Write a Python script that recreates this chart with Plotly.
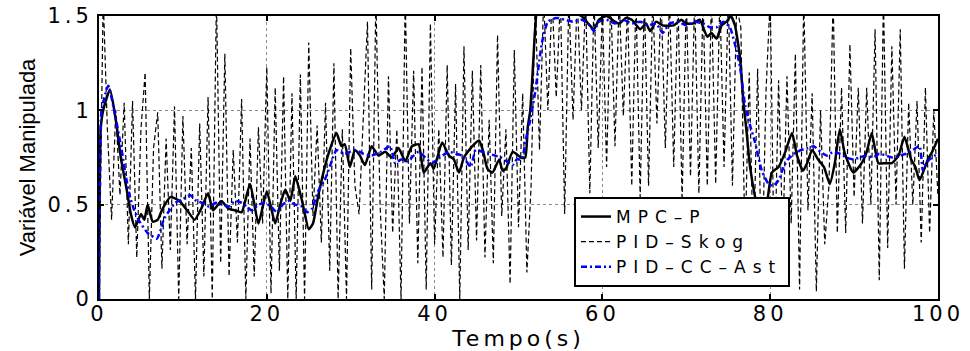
import plotly.graph_objects as go

# ---------------- data ----------------
# PID-Skog: sampled every 0.5 s from t=0 to t=100
skog_dt = 0.5
skog_v = [
    0.0, 1.6, 0.9, 0.42, 1.0, 0.55, 1.04, 0.29, 1.05, 0.22,
    0.9, 1.2, 0.0, 0.8, 0.99, 0.16, 0.85, 0.26, 1.02, 0.0,
    0.97, 0.29, 0.8, 0.0, 0.93, 0.12, 1.07, 0.0, 1.6, 0.19,
    1.30, 0.12, 0.79, 0.3, 1.06, 0.0, 0.85, 0.12, 0.91, 0.4,
    1.23, 0.03, 1.12, 0.15, 1.18, 0.0, 1.09, 0.0, 1.19, 0.0,
    1.36, 0.44, 0.92, 0.3, 1.04, 0.15, 1.25, 0.0, 0.9, 0.0,
    1.33, 0.6, 0.45, 1.0, 1.47, 0.05, 1.6, 0.5, 0.0, 1.18,
    0.35, 0.9, 0.0, 1.6, 0.4, 1.21, 0.19, 1.23, 0.05, 1.46,
    0.29, 0.9, 0.22, 1.24, 0.18, 1.14, 0.0, 1.34, 0.26, 1.21,
    0.31, 1.24, 0.22, 0.95, 0.19, 1.40, 0.44, 0.9, 0.08, 1.32,
    0.38, 1.09, 0.14, 0.6, 1.6, 0.79, 1.6, 1.0, 1.6, 1.07,
    1.6, 0.45, 1.6, 0.95, 1.6, 1.0, 1.6, 0.56, 1.6, 0.8,
    1.55, 0.7, 1.6, 0.81, 1.6, 0.97, 1.55, 0.6, 1.6, 0.54,
    1.6, 0.6, 1.6, 0.93, 1.6, 0.8, 1.6, 0.7, 1.6, 0.52,
    1.6, 0.65, 1.6, 0.56, 1.6, 0.6, 1.6, 0.61, 1.6, 0.7,
    1.6, 0.6, 1.55, 1.44, 0.3, 1.2, 0.2, 1.22, 0.1, 1.1,
    1.6, 0.1, 1.16, 0.3, 1.18, 0.4, 1.30, 0.05, 1.6, 0.47,
    1.09, 0.04, 1.0, 0.29, 0.6, 1.6, 0.35, 1.12, 0.35, 1.35,
    0.54, 1.12, 0.4, 1.12, 0.5, 1.43, 0.10, 1.6, 0.27, 1.34,
    0.5, 1.43, 0.16, 1.04, 0.5, 1.05, 0.30, 1.12, 0.35, 1.0,
    0.54,
]
skog_t = [i * skog_dt for i in range(len(skog_v))]

# MPC-P
mpc_t = [0, 0.2, 0.5, 1.3, 2.0, 2.6, 3.3, 3.8, 4.3, 5.0, 5.4, 5.8, 6.4, 7.0, 7.6,
         8.5, 9.6, 10.5, 11.4, 12.2, 13.0, 13.6, 14.6, 15.4, 16.2, 17.0, 18.0,
         19.0, 20.0, 21.0, 21.6, 22.2, 22.8, 23.4, 24.2, 25.0, 25.5, 26.1, 26.8,
         27.5, 28.3, 28.9, 29.3, 29.9, 30.5, 31.1, 31.7, 32.5, 33.3, 34.1, 34.9,
         35.7, 36.5, 37.3, 38.1, 38.7, 39.5, 39.9, 40.9, 41.7, 42.3, 42.9, 43.5,
         44.5, 45.3, 45.8, 46.3, 46.9, 47.7, 48.1, 48.5, 49.3, 50.3, 50.8, 51.1,
         51.4, 52.0, 52.2, 53.0, 56.0, 57.5, 58.3, 59.0, 59.6, 60.5, 61.5, 62.0,
         62.8, 63.5, 64.5, 65.2, 65.7, 66.4, 67.2, 68.5, 69.4, 70.0, 70.8, 71.6,
         72.5, 73.0, 73.6, 74.2, 74.8, 75.3, 75.8, 76.4, 76.8, 77.2, 77.6, 78.2,
         78.8, 79.4, 80.2, 81.0, 81.8, 82.6, 83.2, 83.9, 84.4, 85.0, 85.7, 86.4,
         87.1, 87.7, 88.3, 88.9, 89.9, 90.9, 91.5, 92.1, 92.9, 93.7, 94.5, 95.3,
         96.0, 96.8, 97.3, 97.8, 98.8, 99.3, 100.0]
mpc_v = [0.0, 0.9, 1.0, 1.11, 0.95, 0.75, 0.58, 0.45, 0.38, 0.45, 0.42, 0.50, 0.41,
         0.42, 0.48, 0.54, 0.52, 0.47, 0.42, 0.48, 0.56, 0.47, 0.52, 0.48, 0.47,
         0.46, 0.61, 0.40, 0.57, 0.40, 0.50, 0.58, 0.52, 0.65, 0.52, 0.37, 0.40,
         0.54, 0.68, 0.79, 0.88, 0.81, 0.82, 0.70, 0.79, 0.76, 0.71, 0.81, 0.76,
         0.78, 0.75, 0.80, 0.73, 0.81, 0.82, 0.67, 0.72, 0.69, 0.83, 0.76, 0.74,
         0.67, 0.75, 0.81, 0.84, 0.78, 0.69, 0.67, 0.74, 0.68, 0.69, 0.78, 0.75,
         0.75, 0.91, 1.0, 1.44, 1.52, 1.52, 1.52, 1.5, 1.46, 1.43, 1.48, 1.5,
         1.47, 1.46, 1.49, 1.48, 1.43, 1.46, 1.42, 1.47, 1.45, 1.45, 1.48, 1.46,
         1.46, 1.48, 1.39, 1.41, 1.38, 1.45, 1.47, 1.5, 1.45, 1.28, 1.05, 0.88,
         0.70, 0.54, 0.42, 0.45, 0.67, 0.70, 0.78, 0.88, 0.76, 0.68, 0.72, 0.79,
         0.74, 0.70, 0.61, 0.72, 0.90, 0.77, 0.67, 0.72, 0.78, 0.88, 0.72, 0.72,
         0.72, 0.76, 0.86, 0.74, 0.70, 0.63, 0.74, 0.78, 0.85]

# PID-CC-Ast
ast_t = [0, 0.1, 0.3, 1.1, 1.9, 2.7, 3.2, 3.7, 4.2, 4.7, 5.8, 6.9, 7.3, 7.7, 8.4,
         9.1, 10.0, 10.9, 11.6, 12.3, 13.1, 13.9, 14.7, 15.5, 16.2, 17.0, 17.6,
         18.2, 19.0, 19.8, 20.5, 21.2, 21.9, 22.6, 23.4, 24.2, 24.8, 25.4, 26.1,
         26.9, 27.9, 28.3, 28.8, 29.3, 29.9, 30.5, 31.5, 32.5, 33.6, 34.7, 35.3,
         36.0, 36.8, 37.5, 38.1, 38.9, 39.7, 40.6, 41.7, 42.5, 43.3, 44.3, 44.9,
         45.7, 46.5, 47.2, 47.9, 48.6, 49.3, 49.8, 50.4, 50.8, 51.4, 52.0, 52.8,
         53.5, 54.5, 55.5, 56.5, 57.5, 58.3, 59.0, 59.6, 60.5, 61.5, 62.5, 63.5,
         64.5, 65.5, 66.4, 67.2, 68.0, 69.0, 70.0, 71.0, 72.0, 72.8, 73.6, 74.4,
         75.2, 75.8, 76.4, 77.0, 77.6, 78.2, 79.0, 79.8, 80.4, 81.0, 81.6, 82.1,
         82.9, 83.7, 84.5, 85.2, 86.0, 86.8, 87.5, 88.3, 89.1, 89.9, 90.7, 91.5,
         92.3, 93.0, 93.8, 94.6, 95.4, 96.2, 97.0, 97.8, 98.2, 98.6, 99.0, 99.6,
         100.0]
ast_v = [0.0, 0.6, 1.0, 1.13, 0.98, 0.79, 0.65, 0.54, 0.47, 0.42, 0.35, 0.32, 0.36,
         0.42, 0.47, 0.51, 0.53, 0.55, 0.52, 0.51, 0.49, 0.51, 0.50, 0.49, 0.52,
         0.51, 0.49, 0.47, 0.50, 0.51, 0.49, 0.46, 0.50, 0.52, 0.50, 0.49, 0.46,
         0.48, 0.57, 0.63, 0.75, 0.79, 0.78, 0.77, 0.78, 0.79, 0.77, 0.76, 0.78,
         0.81, 0.72, 0.74, 0.73, 0.76, 0.78, 0.75, 0.72, 0.75, 0.78, 0.77, 0.76,
         0.70, 0.79, 0.78, 0.77, 0.76, 0.75, 0.73, 0.71, 0.74, 0.74, 0.83, 0.95,
         1.10, 1.36, 1.47, 1.49, 1.48, 1.47, 1.48, 1.46, 1.42, 1.47, 1.48, 1.46,
         1.48, 1.46, 1.47, 1.45, 1.46, 1.41, 1.46, 1.47, 1.45, 1.47, 1.46, 1.44,
         1.44, 1.47, 1.44, 1.35, 1.23, 1.03, 0.92, 0.83, 0.68, 0.61, 0.60, 0.63,
         0.70, 0.74, 0.77, 0.79, 0.80, 0.81, 0.78, 0.76, 0.78, 0.77, 0.75, 0.74,
         0.75, 0.76, 0.75, 0.77, 0.76, 0.75, 0.76, 0.77, 0.79, 0.81, 0.68, 0.72,
         0.74, 0.76, 0.75]

x_ticks = [0, 20, 40, 60, 80, 100]
y_ticks = [0, 0.5, 1, 1.5]
x_title = "Tempo(s)"
y_title = "Variável Manipulada"
names = ["MPC–P", "PID–Skog", "PID–CC–Ast"]

WIDE = "DejaVu Sans, Verdana, sans-serif"
NARROW = "Liberation Sans, Arial, sans-serif"


def spaced(s, px):
    return '<span style="letter-spacing:%dpx">%s</span>' % (px, s)


fig = go.Figure()
fig.add_trace(go.Scatter(x=mpc_t, y=mpc_v, mode="lines", name=spaced(names[0], 7),
                         line=dict(color="black", width=2.5, shape="spline", smoothing=0.5)))
fig.add_trace(go.Scatter(x=skog_t, y=skog_v, mode="lines", name=spaced(names[1], 7),
                         line=dict(color="black", width=1.2, dash="5px,3px")))
fig.add_trace(go.Scatter(x=ast_t, y=ast_v, mode="lines", name=spaced(names[2], 7),
                         line=dict(color="#0000ff", width=2.5, dash="6px,3px,2px,3px",
                                   shape="spline", smoothing=0.5)))

axis_common = dict(
    showline=True, linecolor="black", linewidth=2, mirror="ticks",
    ticks="inside", ticklen=5, tickwidth=1.5, tickcolor="black",
    showgrid=True, gridcolor="#8a8a8a", gridwidth=1, griddash="dot",
    zeroline=False, automargin=False,
    tickfont=dict(family=WIDE, size=21, color="black"),
)

fig.update_xaxes(
    range=[0, 100], tickmode="array", tickvals=x_ticks,
    ticktext=[spaced(str(v), 4) for v in x_ticks],
    ticklabelstandoff=-5,
    title=dict(text=spaced(x_title, 4), standoff=0,
               font=dict(family=WIDE, size=22, color="black")),
    **axis_common,
)
fig.update_yaxes(
    range=[0, 1.5], tickmode="array", tickvals=y_ticks,
    ticktext=[spaced(("%g" % v), 4) for v in y_ticks],
    title=dict(text=y_title, standoff=6,
               font=dict(family=NARROW, size=22, color="black")),
    **axis_common,
)

fig.update_layout(
    width=970, height=351,
    margin=dict(l=99, r=32, t=16, b=52),
    paper_bgcolor="white", plot_bgcolor="white",
    showlegend=True,
    legend=dict(
        x=(574 - 99) / 839, y=(299 - 197) / 283, xanchor="left", yanchor="top",
        bgcolor="white", bordercolor="black", borderwidth=2,
        font=dict(family=WIDE, size=17, color="black"),
        itemwidth=30, tracegroupgap=0,
    ),
)

fig.write_html("out.html")
